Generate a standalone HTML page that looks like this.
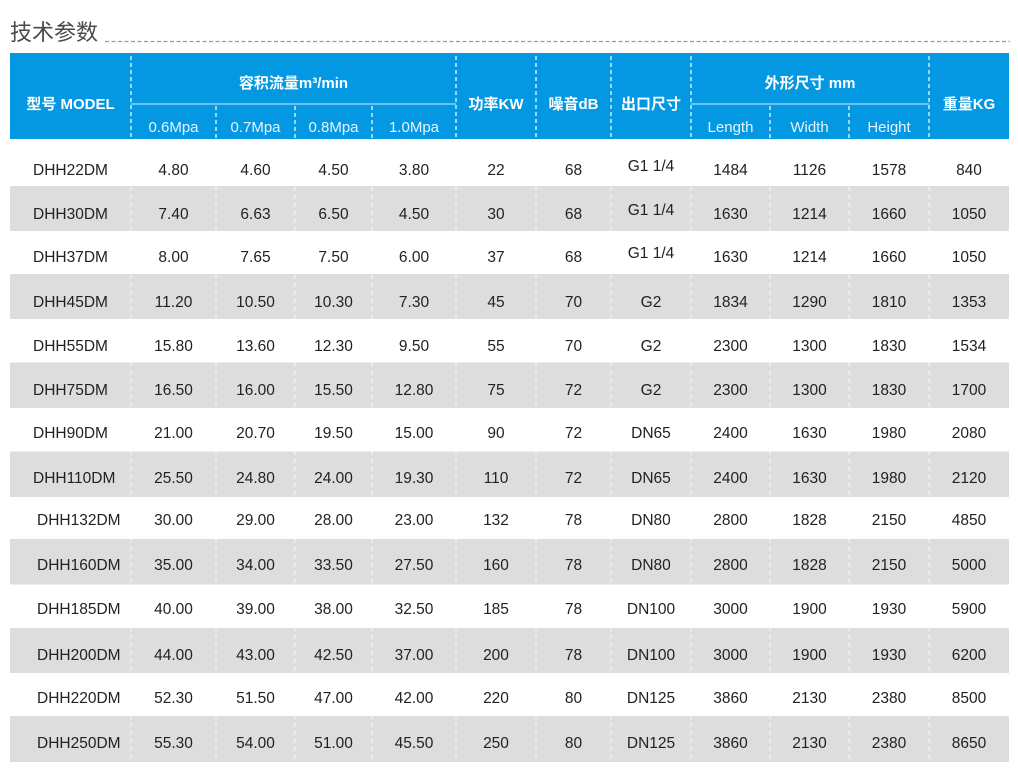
<!DOCTYPE html>
<html><head><meta charset="utf-8">
<style>
html,body{margin:0;padding:0;background:#fff;}
body{width:1018px;height:783px;position:relative;overflow:hidden;font-family:"Liberation Sans","Noto Sans CJK SC",sans-serif;}
svg{position:absolute;left:0;top:0;}
.t{position:absolute;white-space:nowrap;}
.title{left:10px;top:21px;font-size:22px;line-height:24px;color:#4a4a4a;}
.h{color:#fff;font-weight:bold;font-size:15px;height:20px;line-height:20px;text-align:center;}
.s{color:#e6f4fd;font-size:15px;height:20px;line-height:20px;text-align:center;}
.row{position:absolute;left:10px;height:20px;line-height:20px;display:flex;font-size:15.5px;color:#222;}
.row span{text-align:center;white-space:nowrap;display:block;}
.row span:nth-child(1){width:121px;text-align:left;padding-left:23px;box-sizing:border-box;}
.row.b span:nth-child(1){padding-left:27px;}
.row span:nth-child(2){width:85px}
.row span:nth-child(3){width:79px}
.row span:nth-child(4){width:77px}
.row span:nth-child(5){width:84px}
.row span:nth-child(6){width:80px}
.row span:nth-child(7){width:75px}
.row span:nth-child(8){width:80px}
.row span:nth-child(9){width:79px}
.row span:nth-child(10){width:79px}
.row span:nth-child(11){width:80px}
.row span:nth-child(12){width:80px}
</style></head>
<body>
<svg width="1018" height="783" viewBox="0 0 1018 783">
  <line x1="105" y1="41.5" x2="1010" y2="41.5" stroke="#9a9a9a" stroke-width="1.2" stroke-dasharray="4 2.5"/>
  <rect x="10" y="53" width="999" height="86" fill="#0598e2"/>
  <g fill="#dddddd">
    <rect x="10" y="186" width="999" height="45"/>
    <rect x="10" y="274" width="999" height="45"/>
    <rect x="10" y="362.5" width="999" height="45.5"/>
    <rect x="10" y="451.5" width="999" height="45.5"/>
    <rect x="10" y="539" width="999" height="45.5"/>
    <rect x="10" y="628" width="999" height="45"/>
    <rect x="10" y="716" width="999" height="46"/>
  </g>
  <g stroke="#8fd2f6" stroke-width="1.6">
    <line x1="131" y1="104" x2="456" y2="104"/>
    <line x1="691" y1="104" x2="929" y2="104"/>
  </g>
  <g stroke="#ffffff" stroke-width="1.2" stroke-dasharray="4 3">
    <line x1="131" y1="56" x2="131" y2="139"/>
    <line x1="456" y1="56" x2="456" y2="139"/>
    <line x1="536" y1="56" x2="536" y2="139"/>
    <line x1="611" y1="56" x2="611" y2="139"/>
    <line x1="691" y1="56" x2="691" y2="139"/>
    <line x1="929" y1="56" x2="929" y2="139"/>
    <line x1="216" y1="106" x2="216" y2="139"/>
    <line x1="295" y1="106" x2="295" y2="139"/>
    <line x1="372" y1="106" x2="372" y2="139"/>
    <line x1="770" y1="106" x2="770" y2="139"/>
    <line x1="849" y1="106" x2="849" y2="139"/>
  </g>
  <g stroke="#ffffff" stroke-width="1" stroke-dasharray="4 4" opacity="0.85">
    <line x1="131" y1="139" x2="131" y2="762"/>
    <line x1="216" y1="139" x2="216" y2="762"/>
    <line x1="295" y1="139" x2="295" y2="762"/>
    <line x1="372" y1="139" x2="372" y2="762"/>
    <line x1="456" y1="139" x2="456" y2="762"/>
    <line x1="536" y1="139" x2="536" y2="762"/>
    <line x1="611" y1="139" x2="611" y2="762"/>
    <line x1="691" y1="139" x2="691" y2="762"/>
    <line x1="770" y1="139" x2="770" y2="762"/>
    <line x1="849" y1="139" x2="849" y2="762"/>
    <line x1="929" y1="139" x2="929" y2="762"/>
  </g>
</svg>

<div class="t title">技术参数</div>

<div class="t h" style="left:10px;width:121px;top:95px;">型号 MODEL</div>
<div class="t h" style="left:131px;width:325px;top:74px;">容积流量m³/min</div>
<div class="t s" style="left:131px;width:85px;top:118px;">0.6Mpa</div>
<div class="t s" style="left:216px;width:79px;top:118px;">0.7Mpa</div>
<div class="t s" style="left:295px;width:77px;top:118px;">0.8Mpa</div>
<div class="t s" style="left:372px;width:84px;top:118px;">1.0Mpa</div>
<div class="t h" style="left:456px;width:80px;top:95px;">功率KW</div>
<div class="t h" style="left:536px;width:75px;top:95px;">噪音dB</div>
<div class="t h" style="left:611px;width:80px;top:95px;">出口尺寸</div>
<div class="t h" style="left:691px;width:238px;top:74px;">外形尺寸 mm</div>
<div class="t s" style="left:691px;width:79px;top:118px;">Length</div>
<div class="t s" style="left:770px;width:79px;top:118px;">Width</div>
<div class="t s" style="left:849px;width:80px;top:118px;">Height</div>
<div class="t h" style="left:929px;width:80px;top:95px;">重量KG</div>

<div class="row" style="top:161px"><span>DHH22DM</span><span>4.80</span><span>4.60</span><span>4.50</span><span>3.80</span><span>22</span><span>68</span><span style="margin-top:-4px">G1 1/4</span><span>1484</span><span>1126</span><span>1578</span><span>840</span></div>
<div class="row" style="top:205px"><span>DHH30DM</span><span>7.40</span><span>6.63</span><span>6.50</span><span>4.50</span><span>30</span><span>68</span><span style="margin-top:-4px">G1 1/4</span><span>1630</span><span>1214</span><span>1660</span><span>1050</span></div>
<div class="row" style="top:248px"><span>DHH37DM</span><span>8.00</span><span>7.65</span><span>7.50</span><span>6.00</span><span>37</span><span>68</span><span style="margin-top:-4px">G1 1/4</span><span>1630</span><span>1214</span><span>1660</span><span>1050</span></div>
<div class="row" style="top:293px"><span>DHH45DM</span><span>11.20</span><span>10.50</span><span>10.30</span><span>7.30</span><span>45</span><span>70</span><span>G2</span><span>1834</span><span>1290</span><span>1810</span><span>1353</span></div>
<div class="row" style="top:337px"><span>DHH55DM</span><span>15.80</span><span>13.60</span><span>12.30</span><span>9.50</span><span>55</span><span>70</span><span>G2</span><span>2300</span><span>1300</span><span>1830</span><span>1534</span></div>
<div class="row" style="top:381px"><span>DHH75DM</span><span>16.50</span><span>16.00</span><span>15.50</span><span>12.80</span><span>75</span><span>72</span><span>G2</span><span>2300</span><span>1300</span><span>1830</span><span>1700</span></div>
<div class="row" style="top:424px"><span>DHH90DM</span><span>21.00</span><span>20.70</span><span>19.50</span><span>15.00</span><span>90</span><span>72</span><span>DN65</span><span>2400</span><span>1630</span><span>1980</span><span>2080</span></div>
<div class="row" style="top:469px"><span>DHH110DM</span><span>25.50</span><span>24.80</span><span>24.00</span><span>19.30</span><span>110</span><span>72</span><span>DN65</span><span>2400</span><span>1630</span><span>1980</span><span>2120</span></div>
<div class="row b" style="top:511px"><span>DHH132DM</span><span>30.00</span><span>29.00</span><span>28.00</span><span>23.00</span><span>132</span><span>78</span><span>DN80</span><span>2800</span><span>1828</span><span>2150</span><span>4850</span></div>
<div class="row b" style="top:556px"><span>DHH160DM</span><span>35.00</span><span>34.00</span><span>33.50</span><span>27.50</span><span>160</span><span>78</span><span>DN80</span><span>2800</span><span>1828</span><span>2150</span><span>5000</span></div>
<div class="row b" style="top:600px"><span>DHH185DM</span><span>40.00</span><span>39.00</span><span>38.00</span><span>32.50</span><span>185</span><span>78</span><span>DN100</span><span>3000</span><span>1900</span><span>1930</span><span>5900</span></div>
<div class="row b" style="top:646px"><span>DHH200DM</span><span>44.00</span><span>43.00</span><span>42.50</span><span>37.00</span><span>200</span><span>78</span><span>DN100</span><span>3000</span><span>1900</span><span>1930</span><span>6200</span></div>
<div class="row b" style="top:689px"><span>DHH220DM</span><span>52.30</span><span>51.50</span><span>47.00</span><span>42.00</span><span>220</span><span>80</span><span>DN125</span><span>3860</span><span>2130</span><span>2380</span><span>8500</span></div>
<div class="row b" style="top:734px"><span>DHH250DM</span><span>55.30</span><span>54.00</span><span>51.00</span><span>45.50</span><span>250</span><span>80</span><span>DN125</span><span>3860</span><span>2130</span><span>2380</span><span>8650</span></div>
</body></html>
